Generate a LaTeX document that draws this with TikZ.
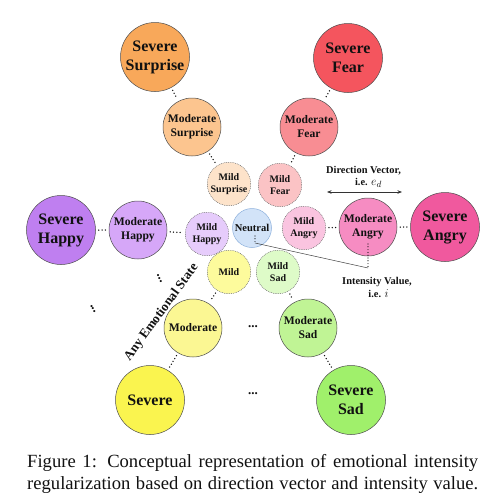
\documentclass[tikz,border=0pt]{standalone}
\usepackage{fontspec}
\setmainfont{Liberation Serif}
\usetikzlibrary{arrows.meta}
\definecolor{sevSur}{HTML}{F8A85A}\definecolor{modSur}{HTML}{FCC58F}\definecolor{milSur}{HTML}{FDE3CA}
\definecolor{sevFear}{HTML}{F4555E}\definecolor{modFear}{HTML}{F88D93}\definecolor{milFear}{HTML}{FBC3C5}
\definecolor{sevHap}{HTML}{BF7FF0}\definecolor{modHap}{HTML}{D6A7F8}\definecolor{milHap}{HTML}{E6CCFB}
\definecolor{sevAng}{HTML}{F0599E}\definecolor{modAng}{HTML}{F68CC2}\definecolor{milAng}{HTML}{FAC4E0}
\definecolor{sevYel}{HTML}{FAF44F}\definecolor{modYel}{HTML}{FBF793}\definecolor{milYel}{HTML}{FDFB9C}
\definecolor{sevSad}{HTML}{A0F06B}\definecolor{modSad}{HTML}{C0F495}\definecolor{milSad}{HTML}{DEFBC8}
\definecolor{neuFill}{HTML}{D2E3F8}\definecolor{neuDraw}{HTML}{8DB0DC}
\definecolor{ink}{HTML}{111111}
\begin{document}
\begin{tikzpicture}[x=1pt,y=-1pt,
  circ/.style={circle, inner sep=0pt, align=center, text=ink, draw=black!70, line width=0.5pt},
  severe/.style={circ, minimum size=69pt, font=\fontsize{16}{19}\selectfont\bfseries},
  moderate/.style={circ, minimum size=58pt, font=\fontsize{11.6}{14}\selectfont\bfseries},
  mild/.style={circ, minimum size=43.5pt, draw=black!55, dash pattern=on 0.9pt off 0.9pt, font=\fontsize{10}{12.5}\selectfont\bfseries},
  neutralbox/.style={circ, minimum size=39pt, draw=neuDraw, fill=neuFill, font=\fontsize{10.5}{12.5}\selectfont\bfseries},
  dotcon/.style={draw=ink, line width=1.5pt, dash pattern=on 0pt off 3.3pt, line cap=round, shorten <=3pt, shorten >=3pt},
  dotshort/.style={draw=ink, line width=1.2pt, dash pattern=on 0pt off 2.8pt, line cap=round},
  freedots/.style={inner sep=0pt, text=ink, font=\fontsize{13}{13}\selectfont\bfseries},
  annot/.style={inner sep=0pt, text=ink, font=\fontsize{10.4}{12}\selectfont\bfseries, align=center}
]
\useasboundingbox (0,0) rectangle (504,504);

% centre
\node[neutralbox] (neu) at (252,228) {Neutral};

% mild ring
\node[mild, fill=milSur]  (lSur)  at (229,184) {Mild\\Surprise};
\node[mild, fill=milFear] (lFear) at (280,185) {Mild\\Fear};
\node[mild, fill=milHap]  (lHap)  at (207,234) {Mild\\Happy};
\node[mild, fill=milAng]  (lAng)  at (304,228) {Mild\\Angry};
\node[mild, fill=milYel]  (lYel)  at (229,272) {Mild};
\node[mild, fill=milSad]  (lSad)  at (278,272) {Mild\\Sad};

% moderate ring
\node[moderate, fill=modSur]  (mSur)  at (192,127) {Moderate\\Surprise};
\node[moderate, fill=modFear] (mFear) at (309,127) {Moderate\\Fear};
\node[moderate, fill=modHap]  (mHap)  at (138,230) {Moderate\\Happy};
\node[moderate, fill=modAng]  (mAng)  at (368,227) {Moderate\\Angry};
\node[moderate, fill=modYel]  (mYel)  at (193,328) {Moderate};
\node[moderate, fill=modSad]  (mSad)  at (308,328) {Moderate\\Sad};

% severe ring
\node[severe, fill=sevSur]  (sSur)  at (155,57)  {Severe\\Surprise};
\node[severe, fill=sevFear] (sFear) at (348,58)  {Severe\\Fear};
\node[severe, fill=sevHap]  (sHap)  at (61,230)  {Severe\\Happy};
\node[severe, fill=sevAng]  (sAng)  at (445,227) {Severe\\Angry};
\node[severe, fill=sevYel]  (sYel)  at (150,400) {Severe};
\node[severe, fill=sevSad]  (sSad)  at (351,400) {Severe\\Sad};

% dotted links
\draw[dotcon] (sSur) -- (mSur);
\draw[dotcon] (mSur) -- (lSur);
\draw[dotcon] (sFear) -- (mFear);
\draw[dotcon] (mFear) -- (lFear);
\draw[dotcon] (sHap) -- (mHap);
\draw[dotcon] (mHap) -- (lHap);
\draw[dotcon] (lAng) -- (mAng);
\draw[dotcon] (mAng) -- (sAng);
\draw[dotcon] (lYel) -- (mYel);
\draw[dotcon] (mYel) -- (sYel);
\draw[dotcon] (lSad) -- (mSad);
\draw[dotcon] (mSad) -- (sSad);

% free ellipses
\node[freedots] (e1) at (253,327) {...};
\node[freedots] (e2) at (253,394) {...};
\node[freedots, rotate=-63] (e3) at (159.5,278.5) {...};
\node[freedots, rotate=-63] (e4) at (93,309) {...};

% any emotional state
\node[inner sep=0pt, text=ink, font=\fontsize{13.1}{13}\selectfont\bfseries, rotate=54] (any) at (161.5,312.5) {Any Emotional State};

% direction vector
\coordinate (dL) at (327,192);
\coordinate (dR) at (402,192);
\draw[draw=black!80, line width=0.6pt, {Stealth[length=4.5pt,width=3.5pt]}-{Stealth[length=4.5pt,width=3.5pt]}] (dL) -- (dR);
\node[annot] (dv1) at (363.5,171) {Direction Vector,};
\node[annot] (dv2) at (368.5,182.5) {i.e. {\fontsize{13}{12}\selectfont$e_d$}};

% intensity value
\coordinate (n1) at (255,236);
\coordinate (n2) at (255,243);
\coordinate (a1) at (368,244);
\coordinate (a2) at (368,268);
\draw[dotshort] (n1) -- (n2);
\draw[dotshort] (a1) -- (a2);
\draw[draw=black!75, line width=0.5pt] (n2) -- (a2);
\node[annot] (iv1) at (377,282.5) {Intensity Value,};
\node[annot] (iv2) at (378.5,294) {i.e. {\fontsize{13}{12}\selectfont$i$}};

% caption
\node[anchor=base west, inner sep=0pt, text=ink, font=\fontsize{18.6}{21}\selectfont] (cap1) at (27,467) {\makebox[451pt][s]{Figure 1: Conceptual representation of emotional intensity}};
\node[anchor=base west, inner sep=0pt, text=ink, font=\fontsize{18.6}{21}\selectfont] (cap2) at (27,489) {\makebox[451pt][s]{regularization based on direction vector and intensity value.}};
\end{tikzpicture}
\end{document}
